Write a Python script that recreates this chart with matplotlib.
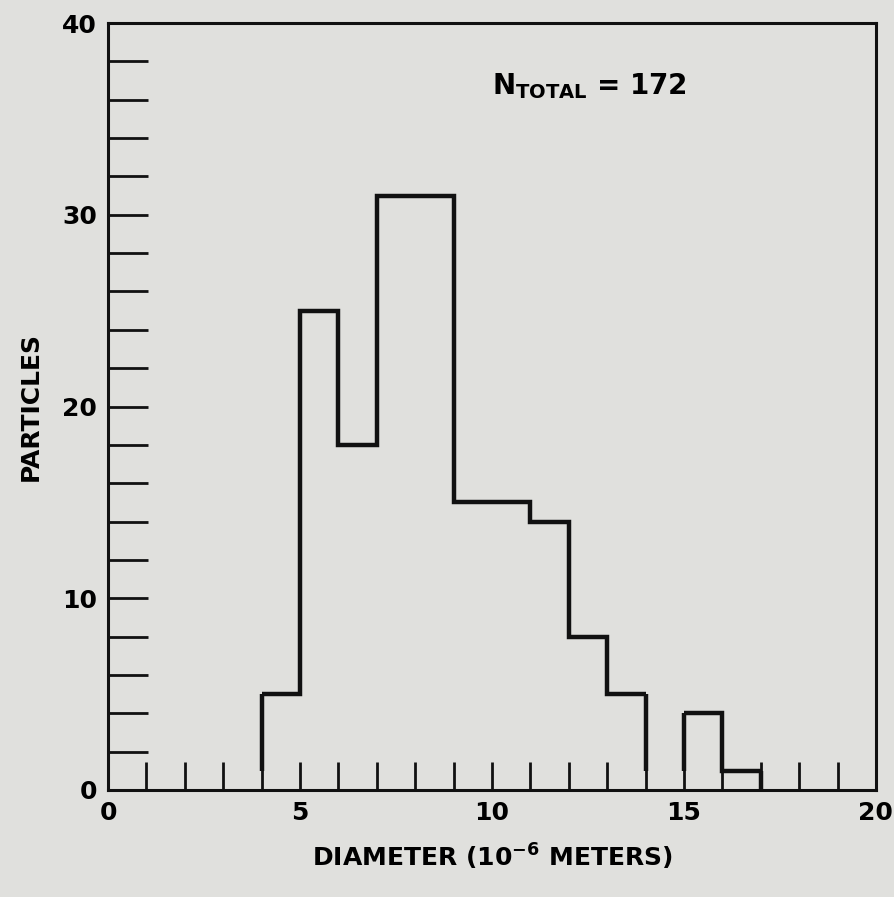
import matplotlib
matplotlib.use("Agg")
import matplotlib.pyplot as plt
import numpy as np

# Data
bin_edges_main = [4, 5, 6, 7, 8, 9, 10, 11, 12, 13, 14]
counts_main = [5, 25, 18, 31, 31, 15, 15, 14, 8, 5]
bin_edges_tail = [15, 16, 17]
counts_tail = [4, 1]
n_total = 172
x_ticks = [0, 5, 10, 15, 20]
y_ticks = [0, 10, 20, 30, 40]

plt.rcParams['font.family'] = ['DejaVu Sans']
bg = '#e0e0dd'
fig = plt.figure(figsize=(8.95, 8.97), dpi=100, facecolor=bg)
ax = fig.add_axes([0.1207, 0.1193, 0.858, 0.855], facecolor=bg)

lw = 3.2
col = '#111111'
ax.stairs(counts_main, bin_edges_main, baseline=None, color=col, lw=lw)
ax.stairs(counts_tail, bin_edges_tail, baseline=None, color=col, lw=lw)
# end risers (pen starts/stops just above the axis)
ax.vlines([bin_edges_main[0]], 1, counts_main[0], color=col, lw=lw)
ax.vlines([bin_edges_main[-1]], 1, counts_main[-1], color=col, lw=lw)
ax.vlines([bin_edges_tail[0]], 1, counts_tail[0], color=col, lw=lw)
ax.vlines([bin_edges_tail[-1]], 0, counts_tail[-1], color=col, lw=lw)

ax.set_xlim(0, 20)
ax.set_ylim(0, 40)
ax.set_xticks(x_ticks)
ax.set_yticks(y_ticks)
ax.set_xticks(np.arange(0, 21, 1), minor=True)
ax.set_yticks(np.arange(0, 41, 2), minor=True)
ax.tick_params(axis='x', which='both', direction='in', length=20, width=2, color=col,
               top=False, pad=8, labelsize=18)
ax.tick_params(axis='y', which='both', direction='in', length=29, width=2, color=col,
               right=False, pad=8, labelsize=18)
for lab in ax.get_xticklabels() + ax.get_yticklabels():
    lab.set_fontweight('bold')
for s in ax.spines.values():
    s.set_linewidth(2.2)
    s.set_color(col)

ax.set_xlabel(r'DIAMETER (10$^{\mathbf{-6}}$ METERS)', fontsize=18, fontweight='bold', labelpad=12)
ax.set_ylabel('PARTICLES', fontsize=18, fontweight='bold', labelpad=14)
ax.text(10.0, 36.3, r'N$_{\mathbf{TOTAL}}$ = ' + str(n_total), fontsize=20, fontweight='bold')

fig.savefig('out.png', dpi=100, facecolor=bg)
